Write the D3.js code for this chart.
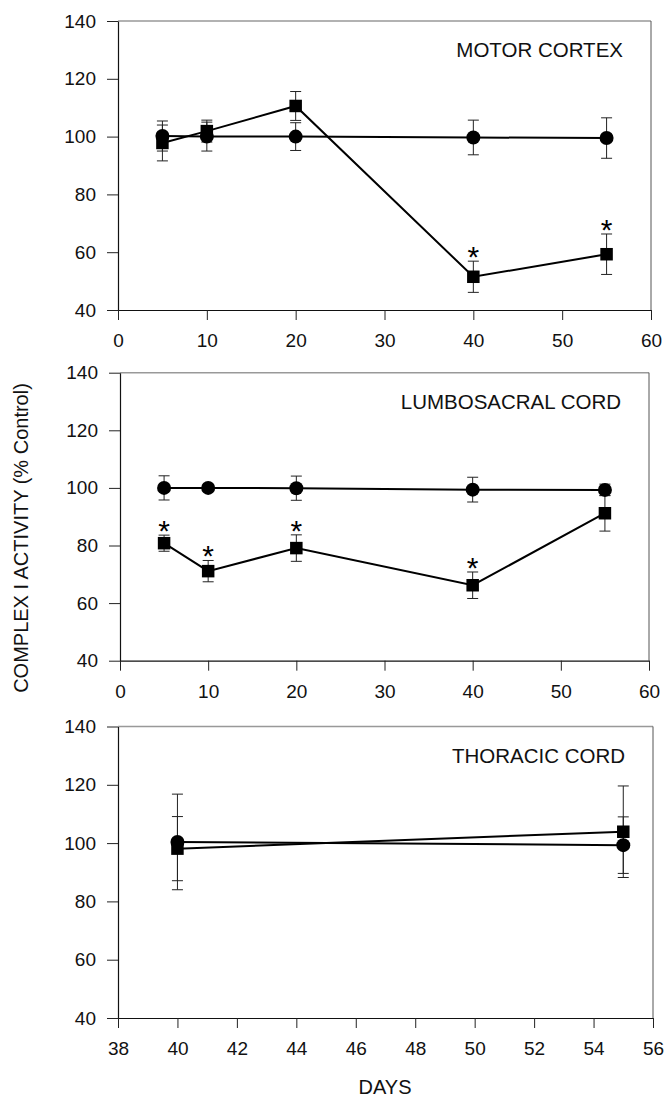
<!DOCTYPE html>
<html>
<head>
<meta charset="utf-8">
<script src="https://cdn.jsdelivr.net/npm/d3@7"></script>
<style>
  html, body { margin: 0; padding: 0; background: #fff; }
  svg { display: block; font-family: "Liberation Sans", Arial, sans-serif; }
</style>
</head>
<body>
<div id="chart"></div>
<script>
// values
const daysMain = [5, 10, 20, 40, 55];
const daysThoracic = [40, 55];

const motorCircle = [100.2, 100, 100, 99.7, 99.5];
const motorCircleErr = [5.2, 5, 4.8, 6, 7];
const motorSquare = [97.8, 101.9, 110.6, 51.5, 59.3];
const motorSquareErr = [6.2, 3.8, 5, 5.4, 7];
const motorStars = [40, 55];

const lumbarCircle = [100, 100, 99.9, 99.4, 99.3];
const lumbarCircleErr = [4.2, 1, 4.2, 4.3, 2];
const lumbarSquare = [80.8, 71.1, 79.1, 66.2, 91.2];
const lumbarSquareErr = [2.8, 3.7, 4.6, 4.6, 6.2];
const lumbarStars = [5, 10, 20, 40];

const thoracicCircle = [100.4, 99.3];
const thoracicCircleErr = [16.4, 9.7];
const thoracicSquare = [98.1, 103.9];
const thoracicSquareErr = [11, 15.7];
const thoracicStars = [];

const yTicks = [40, 60, 80, 100, 120, 140];
const xTicksMain = [0, 10, 20, 30, 40, 50, 60];
const xTicksThoracic = [38, 40, 42, 44, 46, 48, 50, 52, 54, 56];

const W = 666, H = 1097;

const svg = d3.select("#chart").append("svg")
  .attr("width", W)
  .attr("height", H);

function drawPanel(box, xDomain, xTicks, days, circ, circErr, sq, sqErr, stars, title) {
  const x = d3.scaleLinear().domain(xDomain).range([box.left, box.right]);
  const y = d3.scaleLinear().domain([40, 140]).range([box.bottom, box.top]);
  const g = svg.append("g");

  // frame: top & right edges are lighter in the scan
  g.append("line")
    .attr("x1", box.left).attr("x2", box.right)
    .attr("y1", box.top).attr("y2", box.top)
    .attr("stroke", "#999").attr("stroke-width", 1.5);
  g.append("line")
    .attr("x1", box.right).attr("x2", box.right)
    .attr("y1", box.top).attr("y2", box.bottom)
    .attr("stroke", "#555").attr("stroke-width", 1);

  const yAxis = g.append("g")
    .attr("transform", `translate(${box.left},0)`)
    .call(d3.axisLeft(y).tickValues(yTicks).tickSize(11).tickPadding(11).tickSizeOuter(0));
  const xAxis = g.append("g")
    .attr("transform", `translate(0,${box.bottom})`)
    .call(d3.axisBottom(x).tickValues(xTicks).tickSize(10).tickPadding(14).tickSizeOuter(0));

  [yAxis, xAxis].forEach(a => {
    a.select(".domain").attr("stroke", "#111").attr("stroke-width", 1.2);
    a.selectAll(".tick line").attr("stroke", "#222");
    a.selectAll("text")
      .attr("fill", "#111")
      .style("font-size", "19px")
      .style("font-family", "'Liberation Sans', Arial, sans-serif");
  });

  const circPts = days.map((d, i) => ({ d, v: circ[i], e: circErr[i] }));
  const sqPts = days.map((d, i) => ({ d, v: sq[i], e: sqErr[i] }));

  // error bars
  [circPts, sqPts].forEach(pts => {
    const eb = g.append("g").selectAll("g").data(pts).join("g");
    eb.append("line")
      .attr("x1", p => x(p.d)).attr("x2", p => x(p.d))
      .attr("y1", p => y(p.v + p.e)).attr("y2", p => y(p.v - p.e))
      .attr("stroke", "#222").attr("stroke-width", 1);
    [1, -1].forEach(s => {
      eb.append("line")
        .attr("x1", p => x(p.d) - 5.5).attr("x2", p => x(p.d) + 5.5)
        .attr("y1", p => y(p.v + s * p.e)).attr("y2", p => y(p.v + s * p.e))
        .attr("stroke", "#222").attr("stroke-width", 1);
    });
  });

  const line = d3.line().x(p => x(p.d)).y(p => y(p.v));
  [circPts, sqPts].forEach(pts => {
    g.append("path")
      .datum(pts)
      .attr("d", line)
      .attr("fill", "none")
      .attr("stroke", "#000")
      .attr("stroke-width", 2);
  });

  g.append("g").selectAll("circle").data(circPts).join("circle")
    .attr("cx", p => x(p.d)).attr("cy", p => y(p.v))
    .attr("r", 7).attr("fill", "#000");

  const side = 12.5;
  g.append("g").selectAll("rect").data(sqPts).join("rect")
    .attr("x", p => x(p.d) - side / 2).attr("y", p => y(p.v) - side / 2)
    .attr("width", side).attr("height", side).attr("fill", "#000");

  // significance stars above the square series
  g.append("g").selectAll("text").data(sqPts.filter(p => stars.includes(p.d))).join("text")
    .attr("x", p => x(p.d))
    .attr("y", p => y(p.v + p.e) + 6)
    .attr("text-anchor", "middle")
    .style("font-size", "30px")
    .attr("fill", "#000")
    .text("*");

  g.append("text")
    .attr("x", box.right - 28)
    .attr("y", box.top + 36)
    .attr("text-anchor", "end")
    .style("font-size", "20.5px")
    .attr("fill", "#111")
    .text(title);
}

drawPanel({ left: 118, right: 651, top: 21, bottom: 310 }, [0, 60], xTicksMain,
  daysMain, motorCircle, motorCircleErr, motorSquare, motorSquareErr, motorStars, "MOTOR CORTEX");
drawPanel({ left: 120, right: 649, top: 372.7, bottom: 660.7 }, [0, 60], xTicksMain,
  daysMain, lumbarCircle, lumbarCircleErr, lumbarSquare, lumbarSquareErr, lumbarStars, "LUMBOSACRAL CORD");
drawPanel({ left: 118, right: 653, top: 726.5, bottom: 1018 }, [38, 56], xTicksThoracic,
  daysThoracic, thoracicCircle, thoracicCircleErr, thoracicSquare, thoracicSquareErr, thoracicStars, "THORACIC CORD");

svg.append("text")
  .attr("transform", "translate(28,538) rotate(-90)")
  .attr("text-anchor", "middle")
  .style("font-size", "20px")
  .attr("fill", "#111")
  .text("COMPLEX I ACTIVITY (% Control)");

svg.append("text")
  .attr("x", 385)
  .attr("y", 1094)
  .attr("text-anchor", "middle")
  .style("font-size", "20px")
  .attr("fill", "#111")
  .text("DAYS");
</script>
</body>
</html>
